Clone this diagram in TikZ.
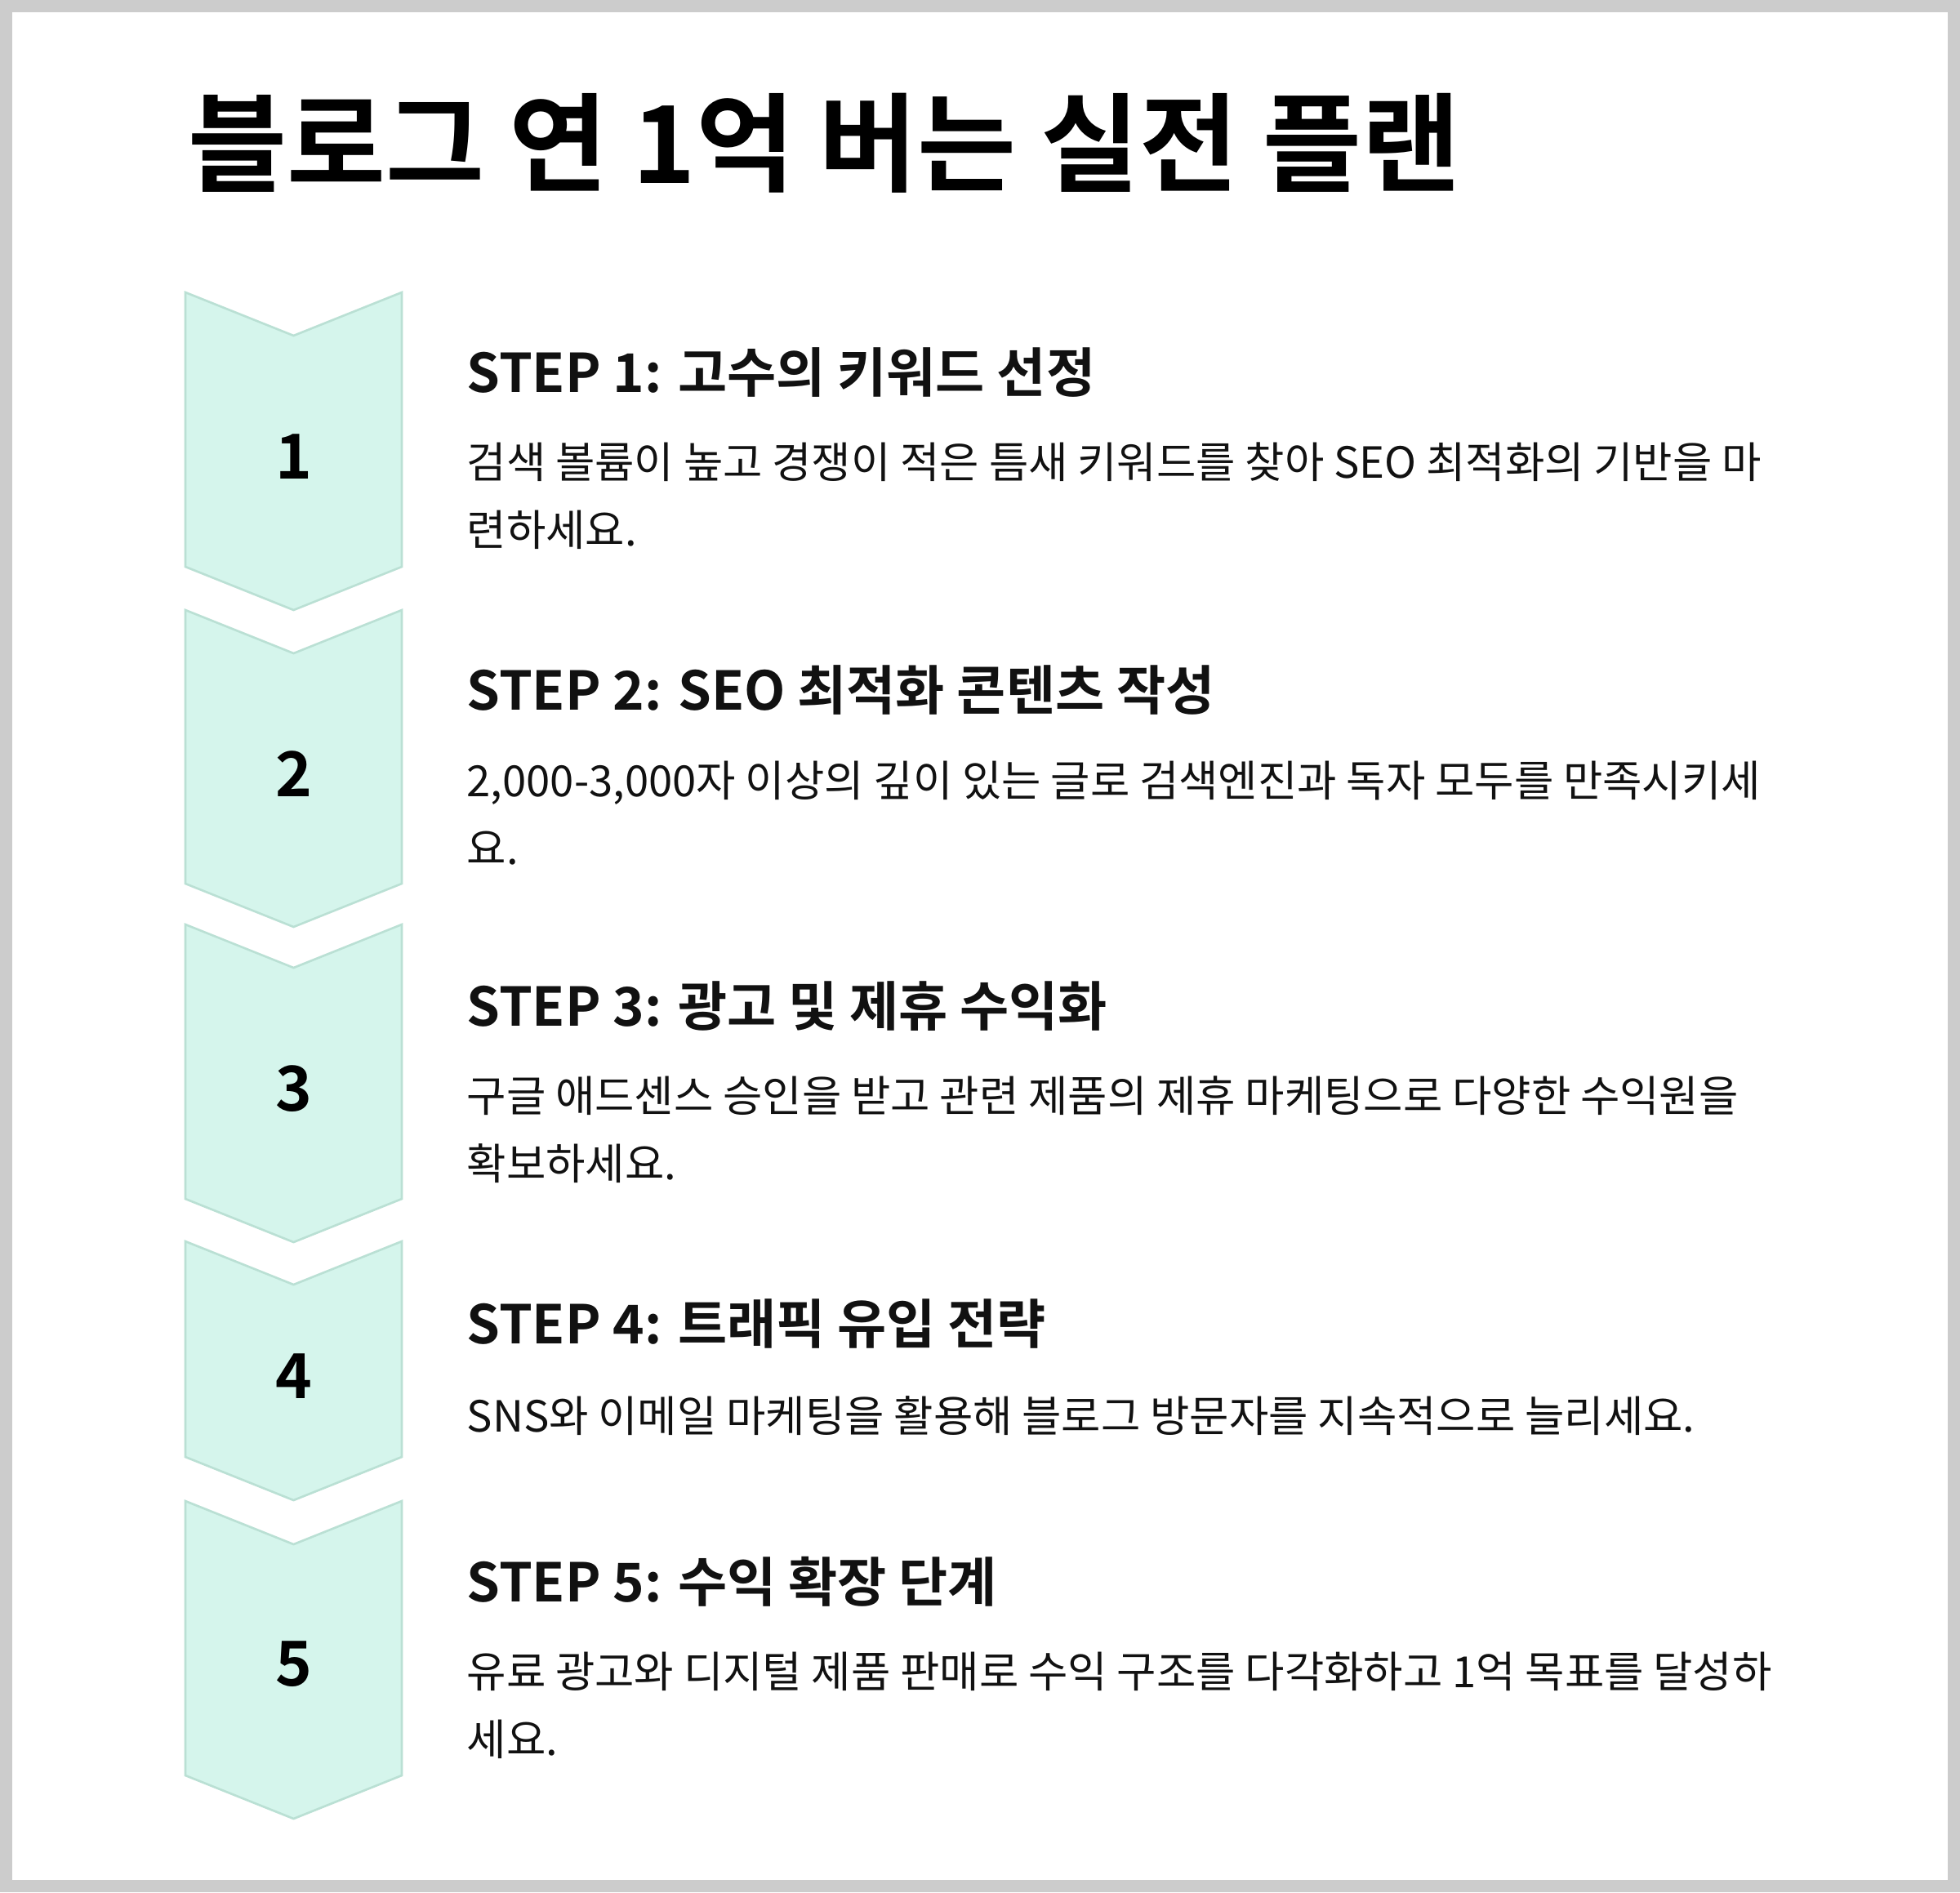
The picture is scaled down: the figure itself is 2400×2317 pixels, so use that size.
\documentclass[tikz,border=0pt]{standalone}
\usepackage{fontspec}
\setmainfont{Noto Sans CJK KR}[BoldFont={Noto Sans CJK KR Bold}]
\usetikzlibrary{positioning}
\definecolor{cmint}{HTML}{D5F5EC}
\definecolor{cmintline}{HTML}{BAE0D4}
\definecolor{cframe}{HTML}{CCCCCC}
\definecolor{cink}{HTML}{111111}
\tikzset{
  every picture/.style={x=0.01cm, y=-0.01cm},
  chev/.style={fill=cmint, draw=cmintline, line width=0.75pt, line join=miter},
  num/.style={font=\fontsize{21.6pt}{24pt}\selectfont\bfseries, text=black, inner sep=0pt},
  head/.style={font=\fontsize{18.6pt}{22pt}\selectfont\bfseries, text=cink, anchor=base west, inner sep=0pt},
  desc/.style={font=\fontsize{14.95pt}{23.6pt}\selectfont, text=cink, anchor=base west, inner sep=0pt, align=left},
  maintitle/.style={font=\fontsize{37.4pt}{42pt}\selectfont\bfseries, text=black, anchor=base west, inner sep=0pt},
}
\begin{document}
\begin{tikzpicture}
  % frame
  \fill[cframe] (0,0) rectangle (2400,2317);
  \fill[white] (15,15) rectangle (2385,2302);
  \node[maintitle] (title) at (230,224) {블로그 연 1억 버는 실전 플랜};
  % step 1 (two-line text: base = last line)
  \draw[chev] (227,358) -- ++(132.5,53) -- ++(132.5,-53) -- ++(0,336) -- ++(-132.5,53) -- ++(-132.5,-53) -- cycle;
  \node[num] (num1) at (359.5,559) {1};
  \node[head] (head1) at (571,480) {STEP 1: 고수의 키워드 선정};
  \node[desc] (desc1) at (571,668) {검색 볼륨이 높고 경쟁이 적은 틈새 키워드를 찾아 SEO 최적화의 기반을 마\\련하세요.};
  % step 2
  \draw[chev] (227,747) -- ++(132.5,53) -- ++(132.5,-53) -- ++(0,335) -- ++(-132.5,53) -- ++(-132.5,-53) -- cycle;
  \node[num] (num2) at (359.5,948) {2};
  \node[head] (head2) at (571,869) {STEP 2: SEO 최적화 콘텐츠 작성};
  \node[desc] (desc2) at (571,1058) {2,000-3,000자 이상의 깊이 있는 글로 검색엔진과 독자 모두를 만족시키세\\요.};
  % step 3
  \draw[chev] (227,1132) -- ++(132.5,53) -- ++(132.5,-53) -- ++(0,336) -- ++(-132.5,53) -- ++(-132.5,-53) -- cycle;
  \node[num] (num3) at (359.5,1333) {3};
  \node[head] (head3) at (571,1256) {STEP 3: 광고 및 제휴 수익화};
  \node[desc] (desc3) at (571,1444) {구글 애드센스 승인을 받고 관련 제품의 제휴 마케팅으로 다양한 수익원을\\확보하세요.};
  % step 4
  \draw[chev] (227,1520) -- ++(132.5,53) -- ++(132.5,-53) -- ++(0,264) -- ++(-132.5,53) -- ++(-132.5,-53) -- cycle;
  \node[num] (num4) at (359.5,1685) {4};
  \node[head] (head4) at (571,1645) {STEP 4: 트래픽 유입 전략};
  \node[desc] (desc4) at (571,1753) {SNS와 이메일 마케팅을 활용해 블로그 방문자를 지속적으로 늘리세요.};
  % step 5
  \draw[chev] (227,1838) -- ++(132.5,53) -- ++(132.5,-53) -- ++(0,336) -- ++(-132.5,53) -- ++(-132.5,-53) -- cycle;
  \node[num] (num5) at (359.5,2038) {5};
  \node[head] (head5) at (571,1961) {STEP 5: 수익 확장 단계};
  \node[desc] (desc5) at (571,2149) {유료 광고와 디지털 제품 판매로 수익 구조를 다각화하고 1억 목표를 달성하\\세요.};
\end{tikzpicture}
\end{document}
